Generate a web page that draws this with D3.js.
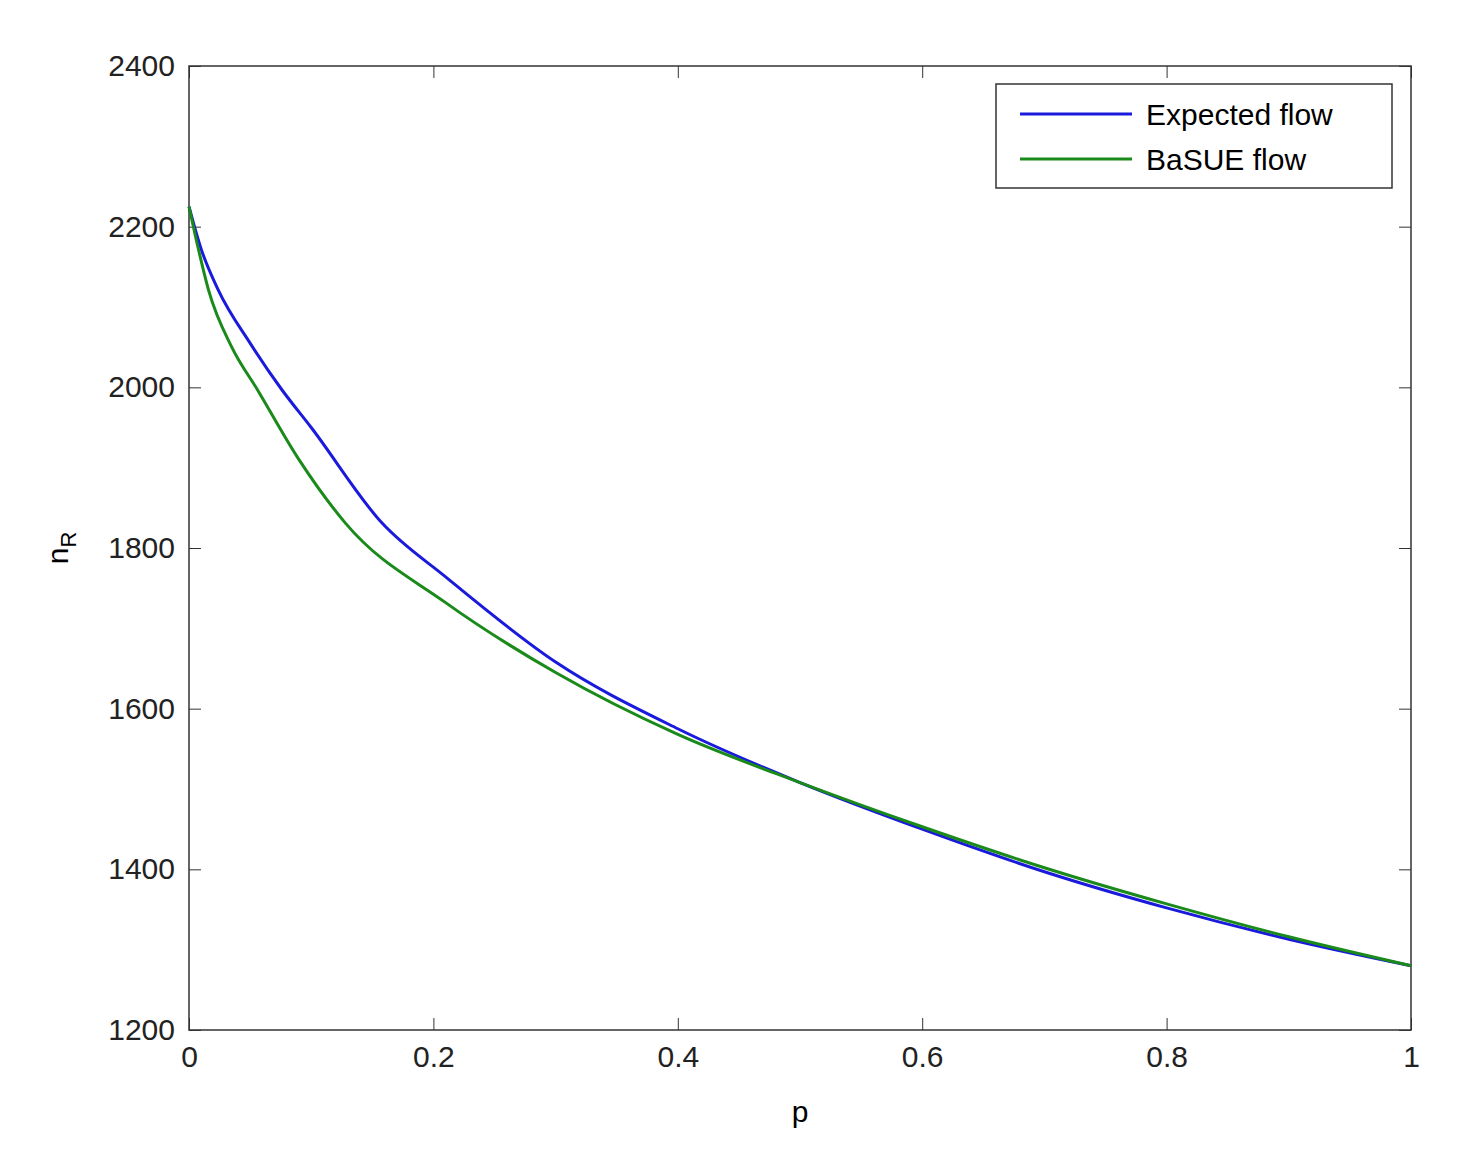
<!DOCTYPE html>
<html><head><meta charset="utf-8">
<script src="https://cdn.jsdelivr.net/npm/d3@7"></script>
<style>body{margin:0;background:#fff}text{font-family:"Liberation Sans",Arial,sans-serif}</style>
</head><body><svg id="c" width="1484" height="1176"></svg>
<script>
const pExpected = [0, 0.01, 0.024, 0.05, 0.076, 0.1, 0.158, 0.21, 0.3, 0.4, 0.5, 0.6, 0.7, 0.8, 0.9, 1.0];
const expected = [2225, 2172, 2121, 2055, 1997, 1950, 1831, 1764, 1658, 1575, 1508, 1450, 1397, 1352, 1313, 1280];
const pBasue = [0, 0.008, 0.016, 0.035, 0.056, 0.09, 0.128, 0.21, 0.3, 0.4, 0.5, 0.6, 0.7, 0.8, 0.9, 1.0];
const basue = [2225, 2170, 2121, 2050, 1997, 1910, 1831, 1732, 1645, 1568, 1508, 1453, 1402, 1357, 1316, 1280];
const xTicks = [0, 0.2, 0.4, 0.6, 0.8, 1];
const yTicks = [1200, 1400, 1600, 1800, 2000, 2200, 2400];

const svg = d3.select("#c");
const L = 189, R = 1411, T = 66, B = 1030;
const x = d3.scaleLinear().domain([0, 1]).range([L, R]);
const y = d3.scaleLinear().domain([1200, 2400]).range([B, T]);
const fs = 30;

const ax = (g, a) => g.call(a).call(s => { s.select(".domain").remove(); s.selectAll("line").attr("stroke", "#333"); s.selectAll("text").attr("font-size", fs).attr("fill", "#222"); });
svg.append("g").attr("transform", `translate(0,${B})`).call(g => ax(g, d3.axisBottom(x).tickValues(xTicks).tickSizeInner(-12).tickPadding(16).tickFormat(d3.format("~g"))));
svg.append("g").attr("transform", `translate(0,${T})`).call(g => ax(g, d3.axisTop(x).tickValues(xTicks).tickSizeInner(-12).tickFormat("")));
svg.append("g").attr("transform", `translate(${L},0)`).call(g => ax(g, d3.axisLeft(y).tickValues(yTicks).tickSizeInner(-12).tickPadding(14).tickFormat(d3.format("d"))));
svg.append("g").attr("transform", `translate(${R},0)`).call(g => ax(g, d3.axisRight(y).tickValues(yTicks).tickSizeInner(-12).tickFormat("")));
svg.append("rect").attr("x", L).attr("y", T).attr("width", R - L).attr("height", B - T).attr("fill", "none").attr("stroke", "#333").attr("stroke-width", 1.5);

const line = px => d3.line().x((d, i) => x(px[i])).y(d => y(d)).curve(d3.curveMonotoneX);
svg.append("path").attr("d", line(pExpected)(expected)).attr("fill", "none").attr("stroke", "#1a1adc").attr("stroke-width", 3);
svg.append("path").attr("d", line(pBasue)(basue)).attr("fill", "none").attr("stroke", "#1a8a1a").attr("stroke-width", 3);

svg.append("text").attr("x", x(0.5)).attr("y", 1122).attr("text-anchor", "middle").attr("font-size", fs).text("p");
const yl = svg.append("text").attr("transform", "translate(68,548) rotate(-90)").attr("text-anchor", "middle").attr("font-size", fs);
yl.append("tspan").text("n");
yl.append("tspan").attr("font-size", 22).attr("dy", 8).text("R");

const lg = svg.append("g");
lg.append("rect").attr("x", 996).attr("y", 84).attr("width", 396).attr("height", 104).attr("fill", "#fff").attr("stroke", "#333").attr("stroke-width", 1.5);
[["Expected flow", "#1a1adc", 114], ["BaSUE flow", "#1a8a1a", 159]].forEach(([t, c, yy]) => {
  lg.append("line").attr("x1", 1020).attr("x2", 1132).attr("y1", yy).attr("y2", yy).attr("stroke", c).attr("stroke-width", 3);
  lg.append("text").attr("x", 1146).attr("y", yy + 11).attr("font-size", fs).text(t);
});
</script></body></html>
